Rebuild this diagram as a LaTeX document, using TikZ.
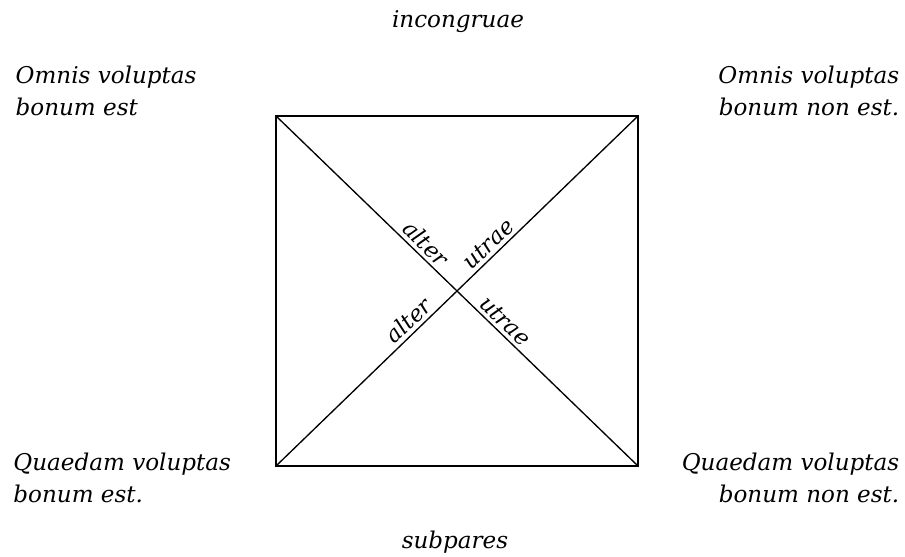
\documentclass[tikz,border=0pt]{standalone}
\usepackage{fontspec}
\setmainfont{DejaVu Serif}
\usepackage{tikz}
\usetikzlibrary{positioning}

\begin{document}
\begin{tikzpicture}[line width=0.95pt,
every node/.style={font=\itshape\fontsize{16.4}{23}\selectfont,inner sep=0pt},
prop/.style={align=left},propr/.style={align=right},
rel/.style={sloped,above,inner sep=2.5pt,font=\itshape\fontsize{16}{18}\selectfont}]
\useasboundingbox (0,0) rectangle (22.625,13.925);
% corners of the square
\coordinate (A) at (6.9,11.025);
\coordinate (E) at (15.95,11.025);
\coordinate (I) at (6.9,2.275);
\coordinate (O) at (15.95,2.275);
% propositions
\node[prop,anchor=west] (a) at (0.375,11.65) {Omnis voluptas\\bonum est};
\node[propr,anchor=east] (e) at (22.5,11.65) {Omnis voluptas\\bonum non est.};
\node[prop,anchor=west] (i) at (0.32,1.975) {Quaedam voluptas\\bonum est.};
\node[propr,anchor=east] (o) at (22.5,1.975) {Quaedam voluptas\\bonum non est.};
\node (inc) at (11.45,13.375) {incongruae};
\node (sub) at (11.375,0.375) {subpares};
% square and diagonals
\draw (A) -- (E) -- (O) -- (I) -- cycle;
\draw (A) -- node[rel,pos=0.39] {alter} node[rel,pos=0.61] {utrae} (O);
\draw (I) -- node[rel,pos=0.39] {alter} node[rel,pos=0.61] {utrae} (E);
\end{tikzpicture}
\end{document}
